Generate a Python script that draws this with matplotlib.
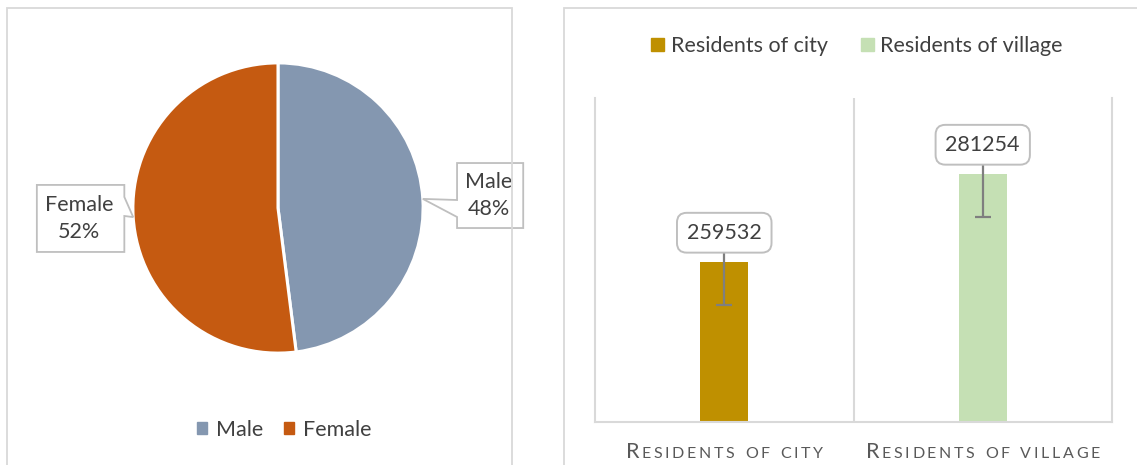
import numpy as np
import matplotlib.pyplot as plt
from matplotlib.patches import Rectangle, Polygon, Patch

plt.rcParams['font.family'] = ['Lato', 'DejaVu Sans']

# pie data
genders = ['Male', 'Female']
gender_share = [48, 52]
gender_colors = ['#8497B0', '#C55A11']

# bar data
groups = ['Residents of city', 'Residents of village']
residents = [259532, 281254]
resident_err = [10600, 10600]
group_colors = ['#BF9000', '#C5E0B4']

W, H = 1137, 465
TXT = '#404040'
GRID = '#D9D9D9'
FS = 15.5

fig = plt.figure(figsize=(W / 100, H / 100), dpi=100)


def px(x0, y0, x1, y1):
    # pixel box (top-left origin) -> figure rect
    return [x0 / W, 1 - y1 / H, (x1 - x0) / W, (y1 - y0) / H]


# panel frames
for x0, x1 in [(7, 512), (564, 1150)]:
    fig.patches.append(Rectangle((x0 / W, -0.05), (x1 - x0) / W, 1.05 - 8 / H,
                                 transform=fig.transFigure, fill=False,
                                 edgecolor=GRID, lw=1.3))

# ---- pie ----
ax1 = fig.add_axes(px(130, 60, 426, 356))
wedges, _ = ax1.pie(gender_share, colors=gender_colors, startangle=90,
                    counterclock=False, radius=1,
                    wedgeprops=dict(edgecolor='white', linewidth=2.2))
ax1.set_xlim(-1.02, 1.02)
ax1.set_ylim(-1.02, 1.02)
ax1.set_aspect('equal')
ax1.axis('off')

# callout boxes: (x0, x1, y0, y1, pointer y hi, pointer y lo, side of pointer)
callouts = [(1.234, 1.69, -0.138, 0.31, 0.055, -0.062, 'left'),
            (-1.662, -1.059, -0.303, 0.159, 0.076, -0.055, 'right')]
for w, name, share, (x0, x1, y0, y1, phi, plo, side) in zip(wedges, genders, gender_share, callouts):
    th = np.deg2rad((w.theta1 + w.theta2) / 2)
    tip = (np.cos(th), np.sin(th))
    if side == 'left':
        pts = [(x0, y1), (x1, y1), (x1, y0), (x0, y0), (x0, plo), tip, (x0, phi)]
    else:
        pts = [(x0, y1), (x1, y1), (x1, phi), tip, (x1, plo), (x1, y0), (x0, y0)]
    ax1.add_patch(Polygon(pts, closed=True, facecolor='white', edgecolor='#BFBFBF',
                          lw=1.3, clip_on=False, zorder=4))
    ax1.text((x0 + x1) / 2 - 0.01, (y0 + y1) / 2, f'{name}\n{share}%', ha='center', va='center',
             fontsize=FS, color=TXT, linespacing=1.42, zorder=5)

fig.legend([Patch(color=c) for c in gender_colors], genders, loc='center',
           bbox_to_anchor=(284 / W, 1 - 430 / H), ncol=2, frameon=False,
           fontsize=FS, labelcolor=TXT, handlelength=0.5, handleheight=0.5,
           handletextpad=0.4, columnspacing=0.95)

# ---- bars ----
ax2 = fig.add_axes(px(595, 98, 1112, 422))
x = np.arange(len(groups))
bars = ax2.bar(x, residents, width=0.186, color=group_colors, yerr=resident_err,
               error_kw=dict(ecolor='#7F7F7F', elinewidth=1.6, capsize=6, capthick=1.6),
               zorder=2)
ax2.set_xlim(-0.5, 1.5)
ax2.set_ylim(220000, 300000)
ax2.axvline(0.5, color=GRID, lw=1.5, zorder=1)
for s in ['left', 'right', 'bottom']:
    ax2.spines[s].set_color(GRID)
    ax2.spines[s].set_linewidth(1.5)
ax2.spines['top'].set_visible(False)
ax2.set_xticks([])
ax2.set_yticks([])

for i, v in enumerate(residents):
    ax2.annotate(str(v), xy=(i, v), xytext=(0, 21), textcoords='offset points',
                 ha='center', va='center', fontsize=FS, color=TXT, zorder=6,
                 bbox=dict(boxstyle='round,pad=0.46,rounding_size=0.45',
                           fc='white', ec='#BFBFBF', lw=1.4))

fig.legend([Patch(color=c) for c in group_colors], groups, loc='center',
           bbox_to_anchor=(857 / W, 1 - 46 / H), ncol=2, frameon=False,
           fontsize=FS, labelcolor=TXT, handlelength=0.6, handleheight=0.6,
           handletextpad=0.3, columnspacing=1.55)

# small-caps category labels
fig.canvas.draw()
r = fig.canvas.get_renderer()


def smallcaps(xc_px, base_y, word, big=15.5, small=11.5, track=2.6):
    chars = []
    for i, ch in enumerate(word):
        fs = big if i == 0 else small
        ch = ch.upper()
        if ch == ' ':
            w = small * 0.35 * 100 / 72
        else:
            t = fig.text(0, 0, ch, fontsize=fs)
            w = t.get_window_extent(r).width
            t.remove()
        chars.append((ch, fs, w))
    total = sum(c[2] for c in chars) + track * (len(chars) - 1)
    xp = xc_px - total / 2
    for ch, fs, w in chars:
        if ch != ' ':
            fig.text(xp / W, base_y, ch, fontsize=fs, color='#595959',
                     ha='left', va='baseline')
        xp += w + track


for i, g in enumerate(groups):
    xc = ax2.transData.transform((x[i], 0))[0]
    smallcaps(xc, 1 - 458 / H, g)

fig.savefig('out.png', dpi=100)
